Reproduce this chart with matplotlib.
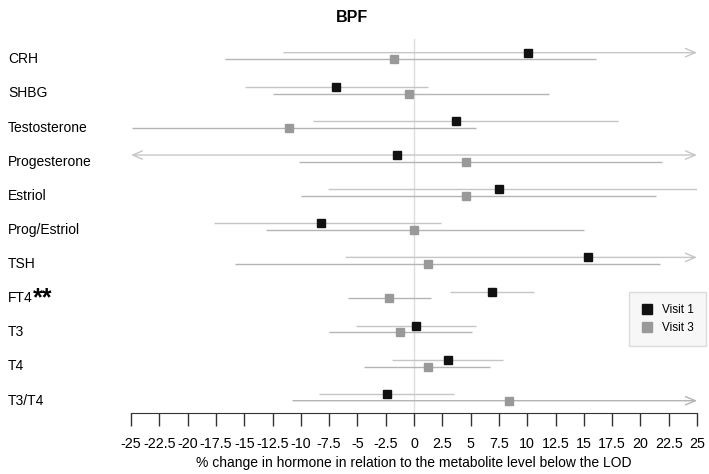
import matplotlib.pyplot as plt
import numpy as np

plt.rcParams['font.family'] = ['Liberation Sans', 'DejaVu Sans']

hormones = ["CRH", "SHBG", "Testosterone", "Progesterone", "Estriol", "Prog/Estriol",
            "TSH", "FT4", "T3", "T4", "T3/T4"]

# visit 1: estimate, lower, upper (upper/lower clipped at +-25 where an arrow is drawn)
v1_est = [10.1, -6.9, 3.7, -1.5, 7.5, -8.2, 15.4, 6.9, 0.2, 3.0, -2.4]
v1_lo = [-11.5, -14.9, -8.9, -25, -7.6, -17.7, -6.0, 3.2, -5.1, -1.9, -8.4]
v1_hi = [25, 1.2, 18.0, 25, 25, 2.4, 25, 10.6, 5.5, 7.9, 3.5]
v1_arrow_lo = [False, False, False, True, False, False, False, False, False, False, False]
v1_arrow_hi = [True, False, False, True, False, False, True, False, False, False, False]

# visit 3
v3_est = [-1.8, -0.4, -11.0, 4.6, 4.6, 0.0, 1.2, -2.2, -1.2, 1.2, 8.4]
v3_lo = [-16.7, -12.5, -24.9, -10.2, -10.0, -13.1, -15.8, -5.8, -7.5, -4.4, -10.7]
v3_hi = [16.1, 11.9, 5.5, 21.9, 21.4, 15.0, 21.7, 1.5, 5.1, 6.7, 25]
v3_arrow_lo = [False] * 11
v3_arrow_hi = [False, False, False, False, False, False, False, False, False, False, True]

xticks = np.arange(-25, 25.1, 2.5)

fig = plt.figure(figsize=(7.09, 4.74), dpi=100)
ax = fig.add_axes([131 / 709, 1 - 413 / 474, 566 / 709, 374 / 474])

rows = np.arange(len(hormones))
off = 0.1


def draw(series_est, lo, hi, alo, ahi, dy, lcol, mcol, label):
    for r, e, l, h, al, ah in zip(rows, series_est, lo, hi, alo, ahi):
        y = r + dy
        if al or ah:
            style = "<->" if (al and ah) else ("->" if ah else "<-")
            ax.annotate("", xy=(h, y), xytext=(l, y),
                        arrowprops=dict(arrowstyle=style + ",head_length=0.7,head_width=0.3",
                                        color=lcol, lw=1.0, shrinkA=0, shrinkB=0,
                                        mutation_scale=10))
        else:
            ax.plot([l, h], [y, y], color=lcol, lw=1.0, solid_capstyle='butt')
    ax.plot(series_est, rows + dy, 's', color=mcol, ms=5.5, ls='none', label=label, zorder=5)


ax.axvline(0, color='#dddddd', lw=1.0, zorder=0)
draw(v1_est, v1_lo, v1_hi, v1_arrow_lo, v1_arrow_hi, -off, '#c6c6c6', '#111111', "Visit 1")
draw(v3_est, v3_lo, v3_hi, v3_arrow_lo, v3_arrow_hi, off, '#b4b4b4', '#999999', "Visit 3")

ax.set_xlim(-25, 25)
ax.set_ylim(10.46, -0.5)
ax.set_xticks(xticks)
ax.set_xticklabels(["{:g}".format(t) for t in xticks], fontsize=10.3)
ax.tick_params(axis='x', length=9, width=1, color='#333333', pad=8)
ax.set_yticks(rows + 0.05)
ax.set_yticklabels(hormones, fontsize=10, ha='left')
ax.tick_params(axis='y', length=0, pad=123 * 72 / 100)
for s in ["top", "right", "left"]:
    ax.spines[s].set_visible(False)
ax.spines["bottom"].set_color('#333333')
ax.set_xlabel("% change in hormone in relation to the metabolite level below the LOD",
              fontsize=10, labelpad=4)

# significance marker on FT4
fig.text(33 / 709, 1 - 305 / 474, "**", fontsize=18, fontweight='bold', va='baseline', ha='left')

fig.text(352 / 709, 1 - 18 / 474, "BPF", fontsize=11.5, fontweight='bold', ha='center', va='center')

leg = ax.legend(loc='upper right', bbox_to_anchor=(706 / 709, 1 - 292 / 474),
                bbox_transform=fig.transFigure, borderaxespad=0, fontsize=8.5,
                frameon=True, fancybox=False, handletextpad=0.8, handlelength=1.0,
                markerscale=1.4, borderpad=1.0)
leg.get_frame().set_facecolor('#f6f6f6')
leg.get_frame().set_edgecolor('#d4d4d4')

fig.savefig("out.png", dpi=100)
